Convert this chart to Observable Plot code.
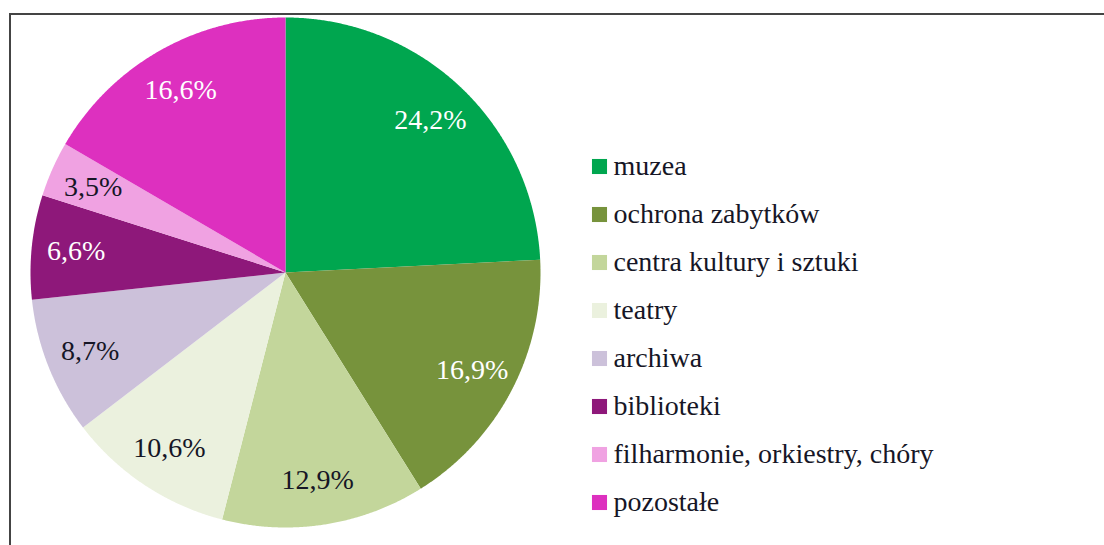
<!DOCTYPE html>
<html>
<head>
<meta charset="utf-8">
<script src="https://cdn.jsdelivr.net/npm/d3@7"></script>
<script src="https://cdn.jsdelivr.net/npm/@observablehq/plot@0.6"></script>
<style>
  html, body { margin: 0; padding: 0; background: #fff; }
  #wrap { position: relative; width: 1104px; height: 545px; overflow: hidden; }
  #frame { position: absolute; left: 9px; top: 13px; right: -5px; bottom: -5px;
           border-top: 2px solid #444; border-left: 2px solid #444; }
  #pie { position: absolute; left: 0; top: 0; }
  #legend { position: absolute; left: 580px; top: 140px; }
</style>
</head>
<body>
<div id="wrap">
  <div id="frame"></div>
  <div id="pie"></div>
  <div id="legend"></div>
</div>
<script>
// ---- data ----
const categories = ["muzea", "ochrona zabytków", "centra kultury i sztuki", "teatry",
                    "archiwa", "biblioteki", "filharmonie, orkiestry, chóry", "pozostałe"];
const shares = [24.2, 16.9, 12.9, 10.6, 8.7, 6.6, 3.5, 16.6];
const colors = ["#00a64f", "#77933c", "#c3d69b", "#ebf1de",
                "#ccc1da", "#8e187a", "#f0a2e2", "#dd30bf"];
const labelColors = ["#ffffff", "#ffffff", "#161626", "#161626",
                     "#161626", "#ffffff", "#161626", "#ffffff"];

// ---- geometry (layout) ----
const W = 1104, H = 545, cx = 285, cy = 272, R = 255;
const font = "'Liberation Serif', 'Times New Roman', serif";

const arcs = d3.pie().sort(null).value(d => d.share)(
  categories.map((c, i) => ({cat: c, share: shares[i], label: labelColors[i]}))
);

const polys = [];
arcs.forEach(a => {
  polys.push({cat: a.data.cat, x: 0, y: 0});
  const n = Math.max(2, Math.ceil((a.endAngle - a.startAngle) / 0.005));
  for (let k = 0; k <= n; k++) {
    const t = a.startAngle + (a.endAngle - a.startAngle) * k / n;
    polys.push({cat: a.data.cat, x: Math.sin(t), y: Math.cos(t)});
  }
  polys.push({cat: a.data.cat, x: 0, y: 0});
});

const labels = arcs.map(a => {
  const m = (a.startAngle + a.endAngle) / 2;
  return {
    cat: a.data.cat,
    x: 0.825 * Math.sin(m),
    y: 0.825 * Math.cos(m),
    text: a.data.share.toFixed(1).replace(".", ",") + "%",
    color: a.data.label
  };
});

const colorScale = {domain: categories, range: colors, type: "ordinal"};

const pie = Plot.plot({
  width: W, height: H,
  margin: 0,
  x: {domain: [-cx / R, (W - cx) / R], axis: null},
  y: {domain: [-(H - cy) / R, cy / R], axis: null},
  color: colorScale,
  style: {background: "transparent", overflow: "visible"},
  marks: [
    Plot.line(polys, {x: "x", y: "y", z: "cat", fill: "cat", stroke: "none"}),
    Plot.text(labels, {x: "x", y: "y", text: "text", fill: d => d.color,
      fontSize: 28, fontFamily: font, textAnchor: "middle", lineAnchor: "middle"})
  ]
});
document.getElementById("pie").appendChild(pie);

const legend = Plot.plot({
  width: 420, height: 387,
  marginTop: 24, marginBottom: 24, marginLeft: 0, marginRight: 0,
  y: {type: "point", domain: categories, padding: 0, axis: null},
  color: colorScale,
  style: {background: "transparent", overflow: "visible"},
  marks: [
    Plot.dot(categories, {y: d => d, fill: d => d, symbol: "square", r: 8.5,
      frameAnchor: "left", dx: 19, stroke: "none"}),
    Plot.text(categories, {y: d => d, text: d => d, frameAnchor: "left", dx: 33,
      textAnchor: "start", fontSize: 28, fontFamily: font, fill: "#161626"})
  ]
});
document.getElementById("legend").appendChild(legend);
</script>
</body>
</html>
